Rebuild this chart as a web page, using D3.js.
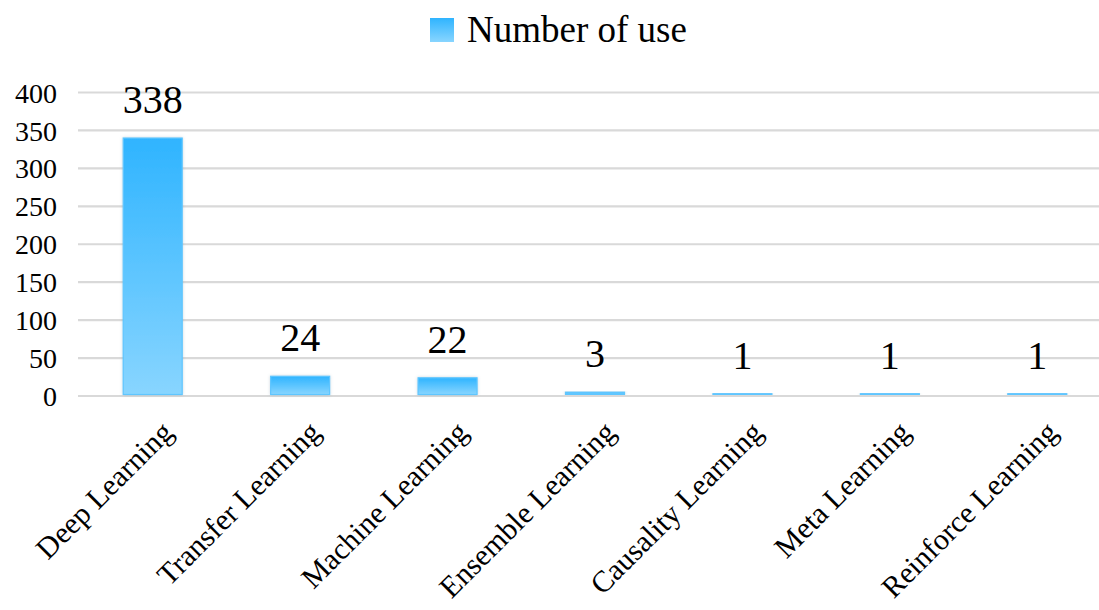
<!DOCTYPE html>
<html>
<head>
<meta charset="utf-8">
<script src="https://cdn.jsdelivr.net/npm/d3@7"></script>
<style>
  html, body { margin: 0; padding: 0; background: #fff; }
  svg { display: block; font-family: "Liberation Serif", "Times New Roman", serif; }
</style>
</head>
<body>
<svg id="chart" width="1099" height="610"></svg>
<script>
// Usage counts of learning paradigms
const categories = ["Deep Learning", "Transfer Learning", "Machine Learning", "Ensemble Learning",
                    "Causality Learning", "Meta Learning", "Reinforce Learning"];
const counts = [338, 24, 22, 3, 1, 1, 1];
const yTicks = [0, 50, 100, 150, 200, 250, 300, 350, 400];
const seriesName = "Number of use";

const svg = d3.select("#chart");
const W = 1099;

const x = d3.scaleBand()
  .domain(categories)
  .range([79, 1111])
  .paddingInner(0.6)
  .paddingOuter(0.3);

const y = d3.scaleLinear()
  .domain([0, 400])
  .range([395.5, 92]);

// Bar fill: vertical gradient, deeper blue at the top
const defs = svg.append("defs");
const grad = defs.append("linearGradient")
  .attr("id", "barFill")
  .attr("x1", 0).attr("y1", 0).attr("x2", 0).attr("y2", 1);
grad.append("stop").attr("offset", "0%").attr("stop-color", "#2fb4ff");
grad.append("stop").attr("offset", "100%").attr("stop-color", "#88d5ff");

const shadow = defs.append("filter")
  .attr("id", "barShadow")
  .attr("x", "-20%").attr("y", "-20%").attr("width", "140%").attr("height", "140%");
shadow.append("feDropShadow")
  .attr("dx", 0).attr("dy", 0)
  .attr("stdDeviation", 1.6)
  .attr("flood-color", "#6b8aa0")
  .attr("flood-opacity", 0.35);

// Horizontal gridlines
const yAxis = d3.axisLeft(y)
  .tickValues(yTicks)
  .tickSize(-(W - 78))
  .tickPadding(21);

const gy = svg.append("g")
  .attr("transform", "translate(78,0)")
  .call(yAxis);
gy.select(".domain").remove();
gy.selectAll(".tick line")
  .attr("stroke", "#d9d9d9")
  .attr("stroke-width", 2.2);
gy.selectAll(".tick text")
  .attr("fill", "#000")
  .attr("font-family", "Liberation Serif, Times New Roman, serif")
  .attr("font-size", 28)
  .attr("dy", "0.36em");

// Bars
svg.append("g")
  .selectAll("rect")
  .data(categories.map((c, i) => ({ c, v: counts[i] })))
  .join("rect")
  .attr("x", d => x(d.c))
  .attr("width", x.bandwidth())
  .attr("y", d => y(d.v) - 1)
  .attr("height", d => y(0) - y(d.v))
  .attr("fill", "url(#barFill)")
  .attr("stroke", "#5ec6ff")
  .attr("stroke-width", 1.2)
  .attr("filter", "url(#barShadow)");

// Value labels
svg.append("g")
  .selectAll("text")
  .data(categories.map((c, i) => ({ c, v: counts[i] })))
  .join("text")
  .attr("x", d => x(d.c) + x.bandwidth() / 2)
  .attr("y", d => y(d.v) - 26)
  .attr("text-anchor", "middle")
  .attr("font-size", 40)
  .attr("fill", "#000")
  .text(d => d.v);

// Rotated category labels
svg.append("g")
  .selectAll("text")
  .data(categories)
  .join("text")
  .attr("transform", d => `translate(${x(d) + x.bandwidth() / 2 + 22},${434}) rotate(-45)`)
  .attr("text-anchor", "end")
  .attr("font-size", 30)
  .attr("fill", "#000")
  .text(d => d);

// Legend
const legend = svg.append("g").attr("transform", "translate(430,18)");
legend.append("rect")
  .attr("width", 24).attr("height", 24)
  .attr("fill", "url(#barFill)");
legend.append("text")
  .attr("x", 37).attr("y", 24)
  .attr("font-size", 37)
  .attr("fill", "#000")
  .text(seriesName);
</script>
</body>
</html>
